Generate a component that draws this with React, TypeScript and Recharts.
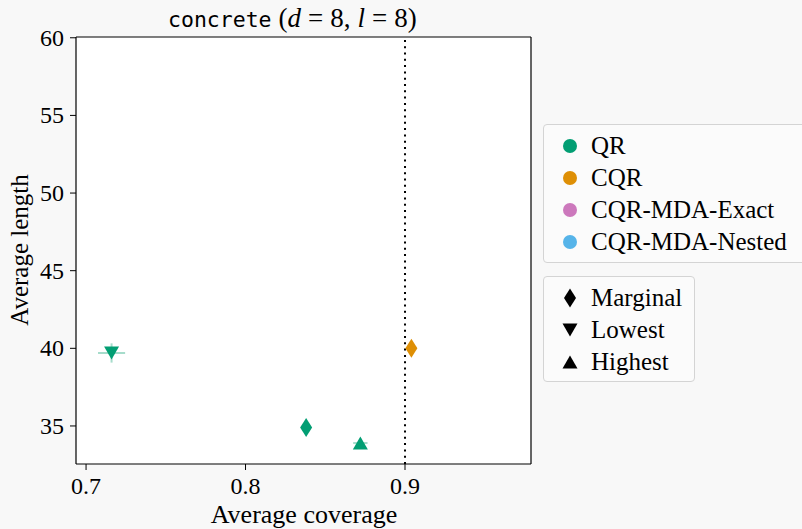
import React from 'react';
import { ScatterChart, Scatter, XAxis, YAxis, ReferenceLine, ErrorBar, CartesianGrid } from 'recharts';

const methods = ['QR', 'CQR', 'CQR-MDA-Exact', 'CQR-MDA-Nested'];
const methodColors = ['#029e73', '#de8f05', '#cc78bc', '#56b4e9'];
const methodErrColors = ['#a6dccb', '#f3d3a3', '#ebc9e4', '#bfe3f6'];
const groups = ['Marginal', 'Lowest', 'Highest'];

const qrCoverage = [0.838, 0.716, 0.872];
const qrLength = [34.9, 39.7, 33.9];
const qrCoverageErr = [0.002, 0.0085, 0.0045];
const qrLengthErr = [0.2, 0.62, 0.3];

const cqrGroups = ['Marginal'];
const cqrCoverage = [0.904];
const cqrLength = [40.0];
const cqrCoverageErr = [0.001];
const cqrLengthErr = [0.1];

const xTicks = [0.7, 0.8, 0.9];
const yTicks = [35, 40, 45, 50, 55, 60];
const xDomain = [0.6937, 0.979];
const yDomain = [32.55, 60.05];
const targetCoverage = 0.9;

const qrData = groups.map((g, i) => ({ group: g, x: qrCoverage[i], y: qrLength[i], ex: qrCoverageErr[i], ey: qrLengthErr[i] }));
const cqrData = cqrGroups.map((g, i) => ({ group: g, x: cqrCoverage[i], y: cqrLength[i], ex: cqrCoverageErr[i], ey: cqrLengthErr[i] }));

const SERIF = "'Liberation Serif', 'DejaVu Serif', serif";
const MONO = "'DejaVu Sans Mono', 'Liberation Mono', monospace";

function markerPath(group: string, cx: number, cy: number) {
  if (group === 'Marginal') return `M${cx},${cy - 9.5} L${cx + 6},${cy} L${cx},${cy + 9.5} L${cx - 6},${cy} Z`;
  if (group === 'Lowest') return `M${cx - 7.5},${cy - 6.5} L${cx + 7.5},${cy - 6.5} L${cx},${cy + 6.5} Z`;
  return `M${cx - 7.5},${cy + 6.5} L${cx + 7.5},${cy + 6.5} L${cx},${cy - 6.5} Z`;
}

const makeShape = (color: string) => (props: any) => {
  const { cx, cy, payload } = props;
  if (cx == null || cy == null) return <g />;
  return <path d={markerPath(payload.group, cx, cy)} fill={color} stroke="none" />;
};

const XTick = (props: any) => {
  const { x, y, payload } = props;
  return (
    <text x={x} y={y + 22} textAnchor="middle" fontSize={24} fill="#000" style={{ fontFamily: SERIF }}>
      {Number(payload.value).toFixed(1)}
    </text>
  );
};

const YTick = (props: any) => {
  const { x, y, payload } = props;
  return (
    <text x={x - 2} y={y + 8} textAnchor="end" fontSize={24} fill="#000" style={{ fontFamily: SERIF }}>
      {payload.value}
    </text>
  );
};

const seriesList = [
  { name: methods[0], data: qrData, color: methodColors[0], err: methodErrColors[0] },
  { name: methods[1], data: cqrData, color: methodColors[1], err: methodErrColors[1] },
];

export default function App() {
  return (
    <div style={{ position: 'absolute', left: 0, top: 0, width: 802, height: 529, background: '#f8f8f8', fontFamily: SERIF }}>
      <ScatterChart width={802} height={529} margin={{ top: 37, right: 271, bottom: 0, left: 0 }}>
        <CartesianGrid fill="#ffffff" horizontal={false} vertical={false} />
        <XAxis
          type="number"
          dataKey="x"
          domain={xDomain}
          ticks={xTicks}
          allowDataOverflow
          height={65}
          tick={<XTick />}
          tickLine={{ stroke: '#000', strokeWidth: 1 }}
          axisLine={{ stroke: '#000', strokeWidth: 1.2 }}
          tickSize={6}
          tickMargin={2}
        />
        <YAxis
          type="number"
          dataKey="y"
          domain={yDomain}
          ticks={yTicks}
          allowDataOverflow
          width={76}
          tick={<YTick />}
          tickLine={{ stroke: '#000', strokeWidth: 1 }}
          axisLine={{ stroke: '#000', strokeWidth: 1.2 }}
          tickSize={6}
          tickMargin={4}
        />
        <ReferenceLine y={yDomain[1]} stroke="#000" strokeWidth={1.2} ifOverflow="extendDomain" />
        <ReferenceLine x={xDomain[1]} stroke="#000" strokeWidth={1.2} ifOverflow="extendDomain" />
        <ReferenceLine x={targetCoverage} stroke="#000" strokeWidth={2} strokeDasharray="2 4.3" />
        {seriesList.map((s) => (
          <Scatter key={s.name} name={s.name} data={s.data} fill={s.color} shape={makeShape(s.color)} isAnimationActive={false}>
            <ErrorBar dataKey="ex" direction="x" width={0} stroke={s.err} strokeWidth={2} />
            <ErrorBar dataKey="ey" direction="y" width={0} stroke={s.err} strokeWidth={2} />
          </Scatter>
        ))}
      </ScatterChart>

      <svg width={802} height={529} style={{ position: 'absolute', left: 0, top: 0, pointerEvents: 'none' }}>
        <text x={168} y={27} textAnchor="start" fontSize={27} fill="#000" style={{ fontFamily: SERIF }}>
          <tspan style={{ fontFamily: MONO }} fontSize={21.5}>concrete</tspan>
          <tspan dx={7}>(</tspan>
          <tspan fontStyle="italic">d</tspan>
          <tspan dx={7}>=</tspan>
          <tspan dx={7}>8,</tspan>
          <tspan dx={7} fontStyle="italic">l</tspan>
          <tspan dx={7}>=</tspan>
          <tspan dx={7}>8)</tspan>
        </text>
        <text x={304} y={523} textAnchor="middle" fontSize={26} fill="#000" style={{ fontFamily: SERIF }}>Average coverage</text>
        <text transform="translate(28,250) rotate(-90)" textAnchor="middle" fontSize={25} fill="#000" style={{ fontFamily: SERIF }}>Average length</text>
      </svg>

      <div style={{ position: 'absolute', left: 543, top: 124, width: 280, height: 139, boxSizing: 'border-box', border: '1px solid #d4d4d4', borderRadius: 4, background: '#fbfbfb' }}>
        {methods.map((m, i) => (
          <div key={m} style={{ position: 'absolute', left: 0, top: 5 + i * 32, height: 32, display: 'flex', alignItems: 'center', whiteSpace: 'nowrap' }}>
            <span style={{ display: 'inline-block', width: 14, height: 14, borderRadius: 7, background: methodColors[i], marginLeft: 19, marginRight: 14 }} />
            <span style={{ fontSize: 25, color: '#000' }}>{m}</span>
          </div>
        ))}
      </div>
      <div style={{ position: 'absolute', left: 543, top: 276, width: 152, height: 106, boxSizing: 'border-box', border: '1px solid #d4d4d4', borderRadius: 4, background: '#fbfbfb' }}>
        {groups.map((g, i) => (
          <div key={g} style={{ position: 'absolute', left: 0, top: 5 + i * 32, height: 32, display: 'flex', alignItems: 'center', whiteSpace: 'nowrap' }}>
            <svg width={18} height={22} style={{ marginLeft: 17, marginRight: 12 }}>
              <path d={markerPath(g, 9, 11)} fill="#000" />
            </svg>
            <span style={{ fontSize: 25, color: '#000' }}>{g}</span>
          </div>
        ))}
      </div>
    </div>
  );
}
